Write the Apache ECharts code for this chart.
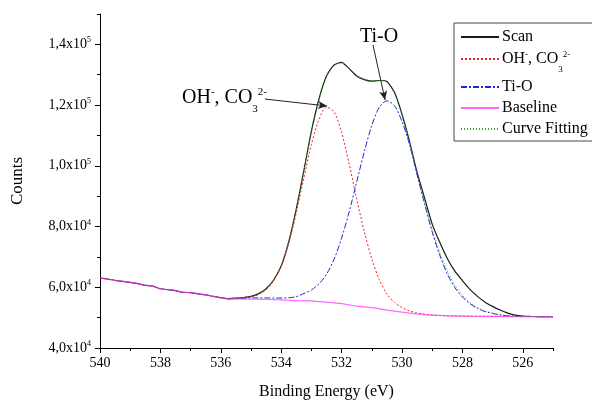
<!DOCTYPE html>
<html>
<head>
<meta charset="utf-8">
<script src="https://cdn.jsdelivr.net/npm/echarts@6/dist/echarts.min.js"></script>
<style>
    html, body { margin: 0; padding: 0; background: #fff; }
    #xps-chart { width: 592px; height: 400px; }
</style>
</head>
<body>
<div id="xps-chart"></div>
<script>
// binding energy grid (eV), every 0.25 eV
var energy = [
    540, 539.75, 539.5, 539.25, 539, 538.75, 538.5, 538.25, 538, 537.75, 537.5, 537.25, 537, 536.75, 536.5, 536.25, 536,
    535.75, 535.5, 535.25, 535, 534.75, 534.5, 534.25, 534, 533.75, 533.5, 533.25, 533, 532.75, 532.5, 532.25, 532,
    531.75, 531.5, 531.25, 531, 530.75, 530.5, 530.25, 530, 529.75, 529.5, 529.25, 529, 528.75, 528.5, 528.25, 528,
    527.75, 527.5, 527.25, 527, 526.75, 526.5, 526.25, 526, 525.75, 525.5, 525.25, 525
];

var scanCounts = [
    63000, 62700, 62300, 61950, 61600, 61200, 60600, 60400, 59500, 59200, 58900, 58300, 58250, 57800, 57500, 57000, 56600,
    56200, 56400, 56600, 57000, 57900, 59500, 62400, 67000, 75000, 85800, 98400, 111400, 122000, 129600, 133200, 134100,
    132000, 129600, 128400, 127900, 128100, 127800, 124200, 117000, 108000, 97800, 89300, 80800, 74800, 69500, 65300, 62200,
    59300, 57000, 55100, 53700, 52500, 51500, 50800, 50500, 50400, 50350, 50300, 50300
];

var ohCo3Counts = [
    null, null, null, null, null, null, null, null, null, null, null, null, null, null, null, null, null,
    56200, 56200, 56400, 56800, 57600, 59200, 62200, 67000, 74500, 84500, 96000, 107000, 115200, 119300, 117800, 111000,
    100600, 89100, 78400, 69400, 62500, 57800, 55000, 53300, 52200, 51500, 51100, 50850, 50720, 50620, 50560, 50500,
    50470, 50450, 50420, 50400, 50390, 50370, 50360, 50350, 50340, 50320, 50310, 50300
];

var tiOCounts = [
    null, null, null, null, null, null, null, null, null, null, null, null, null, null, null, null, null,
    56350, 56400, 56450, 56500, 56500, 56500, 56450, 56450, 56550, 56900, 57950, 59100, 61100, 64300, 69200, 76200,
    84800, 94700, 104600, 113300, 119300, 121400, 119800, 114600, 107000, 97000, 87400, 78200, 70600, 64400, 59900, 56800,
    54600, 53050, 52000, 51400, 50900, 50600, 50450, 50380, 50350, 50330, 50310, 50300
];

var baselineCounts = [
    63000, 62700, 62300, 61950, 61600, 61200, 60600, 60400, 59500, 59200, 58900, 58300, 58250, 57800, 57500, 57000, 56600,
    56200, 56150, 56120, 56100, 56050, 56000, 55930, 55850, 55730, 55600, 55550, 55500, 55300, 55100, 54850, 54600,
    54200, 53800, 53550, 53300, 52900, 52500, 52150, 51800, 51500, 51200, 51000, 50800, 50700, 50600, 50550, 50500,
    50470, 50450, 50420, 50400, 50390, 50370, 50360, 50350, 50340, 50320, 50310, 50300
];

// green dotted fit: lies on the scan over the peaks, on the Ti-O tail below 529 eV
var fitCounts = [
    null, null, null, null, null, null, null, null, null, null, null, null, null, null, null, null, null,
    56300, 56400, 56650, 57100, 57950, 59600, 62550, 67300, 75150, 85800, 98400, 111000, 121600, 129200, 133000, 133900,
    131900, 129700, 128500, 128000, 128100, 127600, 123800, 116600, 107800, 97500, 88000, 79000, 71500, 65400, 60600, 57400,
    55000, 53300, 52150, 51500, 50950, 50620, 50460, 50380, 50350, 50330, 50310, 50300
];

var xMajorTicks = [526, 528, 530, 532, 534, 536, 538, 540];
var xMinorTicks = [525, 527, 529, 531, 533, 535, 537, 539];
var yMajorTicks = [40000, 60000, 80000, 100000, 120000, 140000];
var yMinorTicks = [50000, 70000, 90000, 110000, 130000, 150000];

var OH_NAME = 'OH-, CO32-';
var FONT = 'Liberation Serif';

xpsChartInit();

function pairs(values) {
    return energy.map(function (e, i) {
        return [e, values[i]];
    });
}

function sciLabel(v) {
    var exp = Math.floor(Math.log10(v) + 1e-9);
    var m = (v / Math.pow(10, exp)).toFixed(1).replace('.', ',');
    return '{n|' + m + 'x10}{s|' + exp + '}';
}

function xpsChartInit() {

    var chartDom = document.getElementById('xps-chart');
    var myChart = echarts.init(chartDom, null, { renderer: 'canvas' });
    var option;

    var axisBase = {
        type: 'value',
        min: 525,
        max: 540,
        inverse: true,
        splitLine: { show: false }
    };

    option = {
        animation: false,
        backgroundColor: '#fff',
        textStyle: { fontFamily: FONT },
        grid: {
            left: 100,
            right: 39,
            top: 14,
            bottom: 52,
            outerBoundsMode: 'none'
        },
        legend: {
            orient: 'vertical',
            left: 454,
            top: 23,
            padding: [6, 30, 4, 6],
            itemGap: 5,
            itemWidth: 38,
            itemHeight: 14,
            borderColor: '#444',
            borderWidth: 1,
            borderRadius: 0,
            backgroundColor: '#fff',
            itemStyle: { opacity: 0 },
            data: ['Scan', OH_NAME, 'Ti-O', 'Baseline', 'Curve Fitting'],
            formatter: function (name) {
                if (name === OH_NAME) {
                    return '{n|OH}{sup|-}{n|, CO}{sub|3}{sup|2-}';
                }
                return '{n|' + name + '}';
            },
            textStyle: {
                fontFamily: FONT,
                color: '#000',
                padding: [0, 0, 0, -2],
                rich: {
                    n: { fontFamily: FONT, fontSize: 16, color: '#000', lineHeight: 18 },
                    sup: { fontFamily: FONT, fontSize: 9, color: '#000', verticalAlign: 'top', lineHeight: 9 },
                    sub: { fontFamily: FONT, fontSize: 9, color: '#000', verticalAlign: 'bottom', lineHeight: 9, padding: [0, 0, -6, 0] }
                }
            }
        },
        xAxis: [
            Object.assign({}, axisBase, {
                name: 'Binding Energy (eV)',
                nameLocation: 'middle',
                nameGap: 36,
                nameTextStyle: { fontFamily: FONT, fontSize: 16, color: '#000' },
                axisLine: { show: true, onZero: false, lineStyle: { color: '#000', width: 1 } },
                axisTick: { show: true, inside: false, length: 5, customValues: xMajorTicks, lineStyle: { color: '#000' } },
                axisLabel: { show: true, margin: 8, fontFamily: FONT, fontSize: 14, color: '#000', customValues: xMajorTicks }
            }),
            Object.assign({}, axisBase, {
                position: 'bottom',
                axisLine: { show: false },
                axisTick: { show: true, inside: false, length: 3, customValues: xMinorTicks, lineStyle: { color: '#000' } },
                axisLabel: { show: false }
            })
        ],
        yAxis: [
            {
                type: 'value',
                min: 40000,
                max: 150000,
                name: 'Counts',
                nameLocation: 'middle',
                nameGap: 74,
                nameTextStyle: { fontFamily: FONT, fontSize: 17, color: '#000' },
                splitLine: { show: false },
                axisLine: { show: true, onZero: false, lineStyle: { color: '#000', width: 1 } },
                axisTick: { show: true, inside: false, length: 5, customValues: yMajorTicks, lineStyle: { color: '#000' } },
                axisLabel: {
                    show: true,
                    margin: 9,
                    customValues: yMajorTicks,
                    formatter: sciLabel,
                    rich: {
                        n: { fontFamily: FONT, fontSize: 14, color: '#000', lineHeight: 16 },
                        s: { fontFamily: FONT, fontSize: 8, color: '#000', verticalAlign: 'top', lineHeight: 8 }
                    }
                }
            },
            {
                type: 'value',
                min: 40000,
                max: 150000,
                position: 'left',
                splitLine: { show: false },
                axisLine: { show: false },
                axisTick: { show: true, inside: false, length: 3, customValues: yMinorTicks, lineStyle: { color: '#000' } },
                axisLabel: { show: false }
            }
        ],
        series: [
            {
                name: 'Scan',
                type: 'line',
                data: pairs(scanCounts),
                showSymbol: false,
                symbol: 'none',
                smooth: 0.2,
                lineStyle: { color: '#1a1a1a', width: 1.2 },
                itemStyle: { color: '#1a1a1a' },
                z: 2,
                markLine: {
                    silent: true,
                    symbol: ['none', 'arrow'],
                    symbolSize: [6, 9],
                    label: { show: false },
                    lineStyle: { color: '#222', width: 1, type: 'solid' },
                    data: [
                        [{ coord: [534.54, 122000] }, { coord: [532.48, 119700] }],
                        [{ coord: [530.96, 139800] }, { coord: [530.56, 121700] }]
                    ]
                }
            },
            {
                name: OH_NAME,
                type: 'line',
                data: pairs(ohCo3Counts),
                showSymbol: false,
                symbol: 'none',
                smooth: 0.3,
                lineStyle: { color: '#e8262a', width: 1, type: [2, 2] },
                itemStyle: { color: '#e8262a' },
                z: 3
            },
            {
                name: 'Ti-O',
                type: 'line',
                data: pairs(tiOCounts),
                showSymbol: false,
                symbol: 'none',
                smooth: 0.3,
                lineStyle: { color: '#2626d9', width: 1, type: [6, 2, 2, 2] },
                itemStyle: { color: '#2626d9' },
                z: 3
            },
            {
                name: 'Baseline',
                type: 'line',
                data: pairs(baselineCounts),
                showSymbol: false,
                symbol: 'none',
                smooth: 0.3,
                lineStyle: { color: '#ff33ff', width: 1.2, opacity: 0.75 },
                itemStyle: { color: '#ff33ff' },
                z: 4
            },
            {
                name: 'Curve Fitting',
                type: 'line',
                data: pairs(fitCounts),
                showSymbol: false,
                symbol: 'none',
                smooth: 0.3,
                lineStyle: { color: '#3c9a3c', width: 1, type: [1, 2] },
                itemStyle: { color: '#3c9a3c' },
                z: 5
            }
        ],
        graphic: [
            {
                type: 'text',
                left: 360,
                top: 27,
                style: { text: 'Ti-O', font: '20px "Liberation Serif"', fill: '#000' }
            },
            {
                type: 'text',
                left: 182,
                top: 87,
                style: {
                    text: '{n|OH}{sup|-}{n|, CO}{sub|3}{sup|2-}',
                    rich: {
                        n: { fontFamily: FONT, fontSize: 20, fill: '#000', lineHeight: 22 },
                        sup: { fontFamily: FONT, fontSize: 11, fill: '#000', verticalAlign: 'top', lineHeight: 11 },
                        sub: { fontFamily: FONT, fontSize: 11, fill: '#000', verticalAlign: 'bottom', lineHeight: 11, padding: [0, 0, -6, 0] }
                    }
                }
            }
        ]
    };

    option && myChart.setOption(option);

}
</script>
</body>
</html>
